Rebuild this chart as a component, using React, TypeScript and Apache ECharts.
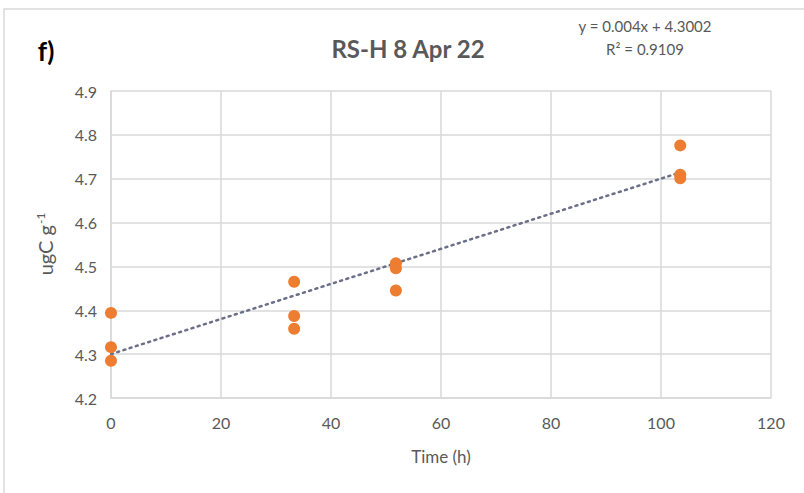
import React, { useEffect, useRef } from "react";
import * as echarts from "echarts";

const timeH = [0, 0, 0, 33.3, 33.3, 33.3, 51.8, 51.8, 51.8, 103.5, 103.5, 103.5];
const ugC = [4.394, 4.316, 4.285, 4.465, 4.387, 4.358, 4.507, 4.496, 4.445, 4.776, 4.709, 4.701];
const slope = 0.004;
const intercept = 4.3002;
const trendX = [0, 103.5];
const xTicks = [0, 20, 40, 60, 80, 100, 120];
const yTicks = [4.2, 4.3, 4.4, 4.5, 4.6, 4.7, 4.8, 4.9];

const FONT = "Lato, 'Open Sans', sans-serif";

export default function App() {
  const ref = useRef<HTMLDivElement>(null);
  useEffect(() => {
    const chart = echarts.init(ref.current!, null, { renderer: "svg" });
    chart.setOption({
      animation: false,
      backgroundColor: "#ffffff",
      graphic: [
        {
          type: "rect",
          shape: { x: 4, y: 9, width: 820, height: 500 },
          style: { fill: "none", stroke: "#d9d9d9", lineWidth: 1.5 },
          silent: true,
        },
        {
          type: "text",
          x: 46,
          y: 51,
          style: {
            text: "f)",
            font: `bold 26px ${FONT}`,
            fill: "#000000",
            align: "center",
            verticalAlign: "middle",
          },
        },
        {
          type: "text",
          x: 408,
          y: 48,
          style: {
            text: "RS-H 8 Apr 22",
            font: `bold 24px ${FONT}`,
            fill: "#595959",
            align: "center",
            verticalAlign: "middle",
          },
        },
        {
          type: "text",
          x: 645,
          y: 26,
          style: {
            text: `y = ${slope}x + ${intercept.toFixed(4)}`,
            font: `15px ${FONT}`,
            fill: "#595959",
            align: "center",
            verticalAlign: "middle",
          },
        },
        {
          type: "text",
          x: 645,
          y: 49,
          style: {
            text: "R² = 0.9109",
            font: `15px ${FONT}`,
            fill: "#595959",
            align: "center",
            verticalAlign: "middle",
          },
        },
        {
          type: "text",
          x: 45,
          y: 244,
          rotation: Math.PI / 2,
          style: {
            text: "{a|ugC g}{s|-1}",
            align: "center",
            verticalAlign: "middle",
            rich: {
              a: { font: `20px ${FONT}`, fill: "#595959" },
              s: { font: `12px ${FONT}`, fill: "#595959", verticalAlign: "top", padding: [0, 0, 9, 1] },
            },
          },
        },
      ],
      grid: { left: 111, top: 91, width: 660, height: 307, containLabel: false },
      xAxis: {
        type: "value",
        min: xTicks[0],
        max: xTicks[xTicks.length - 1],
        interval: 20,
        name: "Time (h)",
        nameLocation: "middle",
        nameGap: 50,
        nameTextStyle: { fontFamily: FONT, fontSize: 17, color: "#595959" },
        axisLine: { show: true, lineStyle: { color: "#d9d9d9", width: 1.5 } },
        axisTick: { show: false },
        axisLabel: { fontFamily: FONT, fontSize: 16, color: "#595959", margin: 16 },
        splitLine: { show: true, lineStyle: { color: "#d9d9d9", width: 1.5 } },
      },
      yAxis: {
        type: "value",
        min: yTicks[0],
        max: yTicks[yTicks.length - 1],
        interval: 0.1,
        axisLine: { show: true, lineStyle: { color: "#d9d9d9", width: 1.5 } },
        axisTick: { show: false },
        axisLabel: {
          fontFamily: FONT,
          fontSize: 16,
          color: "#595959",
          margin: 14,
          formatter: (v: number) => v.toFixed(1),
        },
        splitLine: { show: true, lineStyle: { color: "#d9d9d9", width: 1.5 } },
      },
      series: [
        {
          type: "line",
          data: trendX.map((x) => [x, slope * x + intercept]),
          symbol: "none",
          lineStyle: { color: "#6b7088", width: 2.5, type: [2, 4.5], cap: "round" },
          z: 3,
        },
        {
          type: "scatter",
          data: timeH.map((t, i) => [t, ugC[i]]),
          symbolSize: 12,
          itemStyle: { color: "#ED7D31", opacity: 1 },
          z: 4,
        },
      ],
    });
    return () => chart.dispose();
  }, []);
  return (
    <div
      ref={ref}
      style={{ position: "fixed", left: 0, top: 0, width: 804, height: 493 }}
    />
  );
}
